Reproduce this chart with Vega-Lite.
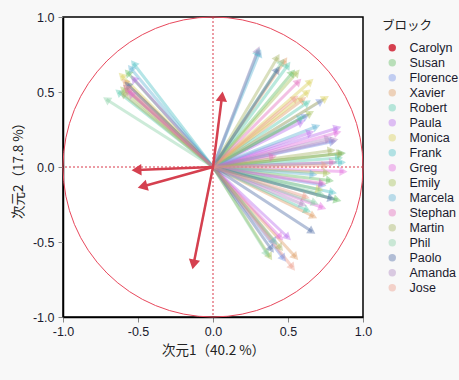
{
  "$schema": "https://vega.github.io/schema/vega-lite/v6.json",
  "width": 300,
  "height": 300,
  "autosize": "none",
  "padding": {"left": 63, "top": 17, "right": 96, "bottom": 63},
  "background": "#f8f8f8",
  "config": {
    "view": {"stroke": "#000000", "fill": "#ffffff", "strokeWidth": 1.5},
    "font": "'Liberation Sans', 'Noto Sans CJK JP', sans-serif",
    "axis": {
      "grid": false,
      "domain": true,
      "domainColor": "#000000",
      "domainWidth": 1.5,
      "tickColor": "#888888",
      "tickSize": 5,
      "labelFontSize": 12.5,
      "labelColor": "#1a1a2e",
      "titleFontSize": 13.5,
      "titleFontWeight": "normal",
      "titleColor": "#222222",
      "titleFont": "'Noto Sans CJK JP', sans-serif",
      "labelFlush": false,
      "labelOverlap": false,
      "labelExpr": "abs(datum.value*2 - round(datum.value*2)) < 0.001 ? replace(format(datum.value, '.1f'), '−', '-') : ''"
    },
    "legend": {
      "labelFontSize": 12.5,
      "titleFontSize": 12.5,
      "titleFont": "'Noto Sans CJK JP', sans-serif",
      "titleFontWeight": "normal",
      "titleColor": "#222222",
      "labelColor": "#1a1a2e"
    }
  },
  "resolve": {"legend": {"color": "independent"}},
  "datasets": {
    "arrows": [
      {"block": "Susan", "x": -0.57, "y": 0.63},
      {"block": "Susan", "x": 0.53, "y": 0.63},
      {"block": "Susan", "x": 0.86, "y": 0.09},
      {"block": "Susan", "x": 0.78, "y": -0.09},
      {"block": "Susan", "x": 0.83, "y": -0.22},
      {"block": "Florence", "x": 0.72, "y": 0.44},
      {"block": "Florence", "x": 0.8, "y": 0.17},
      {"block": "Florence", "x": 0.73, "y": -0.12},
      {"block": "Florence", "x": 0.47, "y": -0.61},
      {"block": "Florence", "x": 0.62, "y": 0.34},
      {"block": "Xavier", "x": -0.59, "y": 0.57},
      {"block": "Xavier", "x": 0.48, "y": 0.71},
      {"block": "Xavier", "x": 0.6, "y": 0.45},
      {"block": "Xavier", "x": 0.67, "y": -0.33},
      {"block": "Xavier", "x": 0.55, "y": -0.6},
      {"block": "Robert", "x": -0.63, "y": 0.5},
      {"block": "Robert", "x": 0.5, "y": 0.68},
      {"block": "Robert", "x": 0.63, "y": 0.43},
      {"block": "Robert", "x": 0.63, "y": -0.29},
      {"block": "Robert", "x": 0.84, "y": 0.06},
      {"block": "Paula", "x": -0.53, "y": 0.59},
      {"block": "Paula", "x": 0.59, "y": 0.3},
      {"block": "Paula", "x": 0.65, "y": 0.23},
      {"block": "Paula", "x": 0.83, "y": 0.26},
      {"block": "Paula", "x": 0.5, "y": -0.47},
      {"block": "Monica", "x": -0.61, "y": 0.61},
      {"block": "Monica", "x": 0.65, "y": 0.57},
      {"block": "Monica", "x": 0.63, "y": 0.5},
      {"block": "Monica", "x": 0.75, "y": 0.46},
      {"block": "Monica", "x": 0.71, "y": -0.15},
      {"block": "Frank", "x": -0.53, "y": 0.69},
      {"block": "Frank", "x": 0.3, "y": 0.77},
      {"block": "Frank", "x": 0.59, "y": 0.33},
      {"block": "Frank", "x": 0.86, "y": 0.03},
      {"block": "Frank", "x": 0.8, "y": -0.17},
      {"block": "Greg", "x": -0.55, "y": 0.49},
      {"block": "Greg", "x": 0.87, "y": -0.03},
      {"block": "Greg", "x": 0.73, "y": -0.27},
      {"block": "Greg", "x": 0.45, "y": -0.47},
      {"block": "Greg", "x": 0.83, "y": 0.23},
      {"block": "Emily", "x": -0.6, "y": 0.52},
      {"block": "Emily", "x": 0.65, "y": 0.36},
      {"block": "Emily", "x": 0.38, "y": -0.6},
      {"block": "Emily", "x": 0.76, "y": -0.04},
      {"block": "Emily", "x": 0.56, "y": 0.63},
      {"block": "Marcela", "x": -0.55, "y": 0.66},
      {"block": "Marcela", "x": 0.31, "y": 0.76},
      {"block": "Marcela", "x": 0.69, "y": 0.27},
      {"block": "Marcela", "x": 0.67, "y": -0.05},
      {"block": "Marcela", "x": 0.41, "y": -0.5},
      {"block": "Stephan", "x": -0.57, "y": 0.51},
      {"block": "Stephan", "x": 0.57, "y": 0.57},
      {"block": "Stephan", "x": 0.8, "y": 0.03},
      {"block": "Stephan", "x": 0.73, "y": -0.11},
      {"block": "Stephan", "x": 0.4, "y": 0.07},
      {"block": "Martin", "x": -0.6, "y": 0.49},
      {"block": "Martin", "x": 0.43, "y": 0.73},
      {"block": "Martin", "x": 0.85, "y": 0.09},
      {"block": "Martin", "x": 0.79, "y": 0.11},
      {"block": "Martin", "x": 0.45, "y": -0.54},
      {"block": "Phil", "x": -0.71, "y": 0.45},
      {"block": "Phil", "x": 0.46, "y": 0.7},
      {"block": "Phil", "x": 0.72, "y": -0.18},
      {"block": "Phil", "x": 0.68, "y": -0.24},
      {"block": "Phil", "x": 0.36, "y": -0.58},
      {"block": "Paolo", "x": -0.57, "y": 0.55},
      {"block": "Paolo", "x": 0.43, "y": 0.65},
      {"block": "Paolo", "x": 0.79, "y": -0.21},
      {"block": "Paolo", "x": 0.66, "y": -0.43},
      {"block": "Paolo", "x": 0.39, "y": -0.55},
      {"block": "Amanda", "x": 0.3, "y": 0.78},
      {"block": "Amanda", "x": 0.77, "y": 0.19},
      {"block": "Amanda", "x": 0.81, "y": 0.18},
      {"block": "Amanda", "x": -0.58, "y": 0.53},
      {"block": "Amanda", "x": 0.6, "y": -0.25},
      {"block": "Jose", "x": -0.58, "y": 0.53},
      {"block": "Jose", "x": 0.55, "y": 0.46},
      {"block": "Jose", "x": 0.53, "y": -0.67},
      {"block": "Jose", "x": 0.75, "y": 0.01},
      {"block": "Jose", "x": 0.62, "y": -0.2},
      {"block": "Carolyn", "x": 0.06, "y": 0.47},
      {"block": "Carolyn", "x": -0.51, "y": -0.02},
      {"block": "Carolyn", "x": -0.47, "y": -0.13},
      {"block": "Carolyn", "x": -0.13, "y": -0.65}
    ]
  },
  "layer": [
    {
      "data": {"values": [{}]},
      "mark": {"type": "point", "shape": "circle", "size": 90000, "filled": false, "stroke": "#e8485c", "strokeWidth": 1, "opacity": 1},
      "encoding": {
        "x": {"datum": 0, "type": "quantitative", "scale": {"domain": [-1, 1], "nice": false, "zero": false},
          "axis": {"values": [-1, -0.75, -0.5, -0.25, 0, 0.25, 0.5, 0.75, 1], "title": "次元1（40.2 %）", "labelPadding": 3, "titlePadding": 6}},
        "y": {"datum": 0, "type": "quantitative", "scale": {"domain": [-1, 1], "nice": false, "zero": false},
          "axis": {"values": [-1, -0.75, -0.5, -0.25, 0, 0.25, 0.5, 0.75, 1], "title": "次元2（17.8 %）", "labelPadding": 4, "titlePadding": 7}}
      }
    },
    {
      "data": {"values": [{}]},
      "mark": {"type": "rule", "stroke": "#d9384a", "strokeDash": [2, 2], "strokeWidth": 1},
      "encoding": {"x": {"datum": 0, "type": "quantitative"}}
    },
    {
      "data": {"values": [{}]},
      "mark": {"type": "rule", "stroke": "#d9384a", "strokeDash": [2, 2], "strokeWidth": 1},
      "encoding": {"y": {"datum": 0, "type": "quantitative"}}
    },
    {
      "data": {"name": "arrows"},
      "transform": [{"filter": "datum.block !== 'Carolyn'"}],
      "mark": {"type": "rule", "strokeWidth": 3, "strokeCap": "butt"},
      "encoding": {
        "x": {"field": "x", "type": "quantitative"},
        "y": {"field": "y", "type": "quantitative"},
        "x2": {"datum": 0},
        "y2": {"datum": 0},
        "color": {"field": "block", "type": "nominal", "legend": null}
      }
    },
    {
      "data": {"name": "arrows"},
      "transform": [{"filter": "datum.block !== 'Carolyn'"}, {"calculate": "atan2(datum.x, datum.y) * 180 / PI", "as": "ang"}],
      "mark": {"type": "point", "shape": "triangle-up", "filled": true, "size": 85, "opacity": 1},
      "encoding": {
        "x": {"field": "x", "type": "quantitative"},
        "y": {"field": "y", "type": "quantitative"},
        "angle": {"field": "ang", "type": "quantitative", "scale": null},
        "color": {"field": "block", "type": "nominal", "legend": null}
      }
    },
    {
      "data": {"name": "arrows"},
      "transform": [{"filter": "datum.block === 'Carolyn'"}],
      "mark": {"type": "rule", "strokeWidth": 2.5},
      "encoding": {
        "x": {"field": "x", "type": "quantitative"},
        "y": {"field": "y", "type": "quantitative"},
        "x2": {"datum": 0},
        "y2": {"datum": 0},
        "color": {"field": "block", "type": "nominal", "legend": null}
      }
    },
    {
      "data": {"name": "arrows"},
      "transform": [{"calculate": "atan2(datum.x, datum.y) * 180 / PI", "as": "ang"}],
      "mark": {"type": "point", "shape": "triangle-up", "filled": true, "opacity": 1},
      "encoding": {
        "x": {"field": "x", "type": "quantitative"},
        "y": {"field": "y", "type": "quantitative"},
        "angle": {"field": "ang", "type": "quantitative", "scale": null},
        "size": {"condition": {"test": "datum.block === 'Carolyn'", "value": 130}, "value": 0},
        "color": {
          "field": "block", "type": "nominal",
          "scale": {
            "domain": ["Carolyn", "Susan", "Florence", "Xavier", "Robert", "Paula", "Monica", "Frank", "Greg", "Emily", "Marcela", "Stephan", "Martin", "Phil", "Paolo", "Amanda", "Jose"],
            "range": ["#d5404f", "rgba(90,185,90,0.4)", "rgba(110,140,230,0.4)", "rgba(220,150,90,0.4)", "rgba(80,200,170,0.4)", "rgba(180,100,235,0.4)", "rgba(215,205,80,0.4)", "rgba(70,190,195,0.4)", "rgba(225,100,220,0.4)", "rgba(160,190,80,0.4)", "rgba(90,175,210,0.4)", "rgba(225,100,185,0.4)", "rgba(160,175,90,0.4)", "rgba(130,205,160,0.4)", "rgba(70,100,160,0.4)", "rgba(170,130,190,0.4)", "rgba(235,150,130,0.4)"]
          },
          "legend": {
            "title": "ブロック",
            "orient": "none",
            "legendX": 319,
            "legendY": 3,
            "symbolType": "circle",
            "symbolSize": 55,
            "symbolStrokeWidth": 0,
            "symbolOffset": 4,
            "labelOffset": 11,
            "rowPadding": 2,
            "titlePadding": 9
          }
        }
      }
    }
  ]
}
